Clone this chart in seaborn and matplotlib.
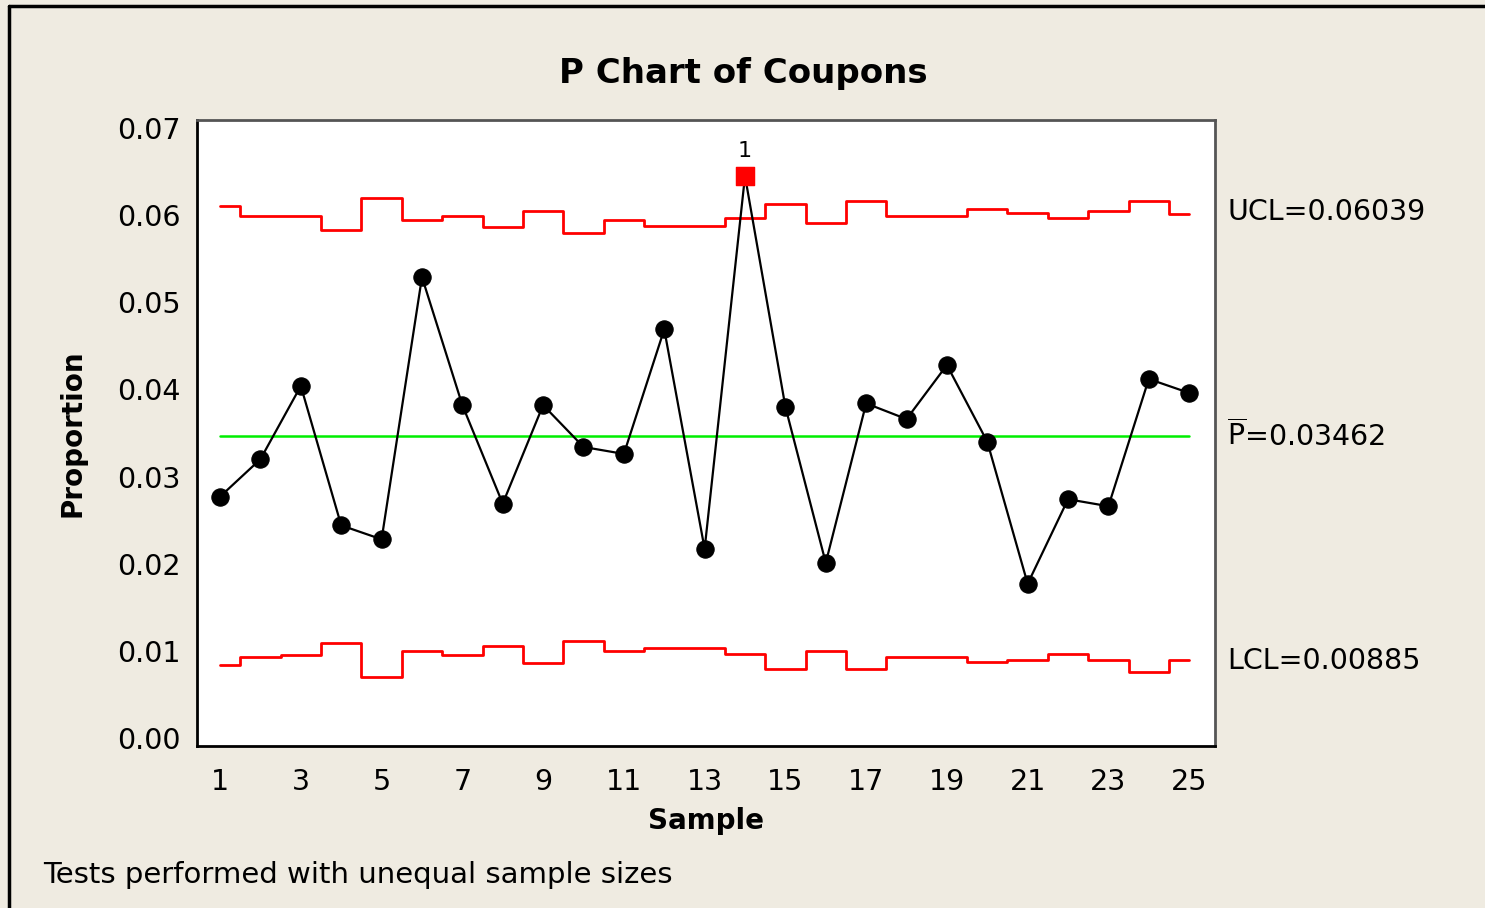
import numpy as np
import pandas as pd
import seaborn as sns
import matplotlib.pyplot as plt
from matplotlib.lines import Line2D

# P chart data
samples = list(range(1, 26))
proportion = [0.0277, 0.0320, 0.0404, 0.0244, 0.0228, 0.0529, 0.0382, 0.0269,
              0.0382, 0.0334, 0.0326, 0.0469, 0.0217, 0.0645, 0.0380, 0.0201,
              0.0384, 0.0366, 0.0428, 0.0340, 0.0177, 0.0274, 0.0266, 0.0412,
              0.0396]
ucl = [0.0610, 0.0599, 0.0599, 0.0583, 0.0620, 0.0594, 0.0599, 0.0586,
       0.0605, 0.0580, 0.0594, 0.0588, 0.0588, 0.0597, 0.0613, 0.0591,
       0.0616, 0.0599, 0.0599, 0.0607, 0.0602, 0.0597, 0.0605, 0.0616,
       0.0601]
lcl = [0.0084, 0.0093, 0.0095, 0.0109, 0.0070, 0.0100, 0.0095, 0.0106,
       0.0086, 0.0111, 0.0100, 0.0103, 0.0103, 0.0096, 0.0079, 0.0100,
       0.0079, 0.0093, 0.0093, 0.0087, 0.0090, 0.0096, 0.0090, 0.0076,
       0.0090]
p_bar = 0.03462
ucl_label = "UCL=0.06039"
lcl_label = "LCL=0.00885"
out_of_control = [14]
xtick_vals = list(range(1, 26, 2))
ytick_vals = [0.00, 0.01, 0.02, 0.03, 0.04, 0.05, 0.06, 0.07]

df = pd.DataFrame({"Sample": samples, "Proportion": proportion,
                   "UCL": ucl, "LCL": lcl})

sns.set_style("white")
plt.rcParams['font.family'] = ['DejaVu Sans']
plt.rcParams['mathtext.fontset'] = 'dejavusans'
plt.rcParams['text.color'] = 'black'
plt.rcParams['axes.labelcolor'] = 'black'

bg = '#EFEBE1'
fig = plt.figure(figsize=(14.85, 9.08), dpi=100, facecolor=bg)
ax = fig.add_axes([0.1327, 0.1784, 0.6855, 0.6894])
ax.set_facecolor('white')

sns.lineplot(data=df, x="Sample", y="UCL", ax=ax, color='#FF0000',
             linewidth=2, drawstyle='steps-mid')
sns.lineplot(data=df, x="Sample", y="LCL", ax=ax, color='#FF0000',
             linewidth=2, drawstyle='steps-mid')
ax.axhline(p_bar, xmin=(1 - 0.43) / (25.64 - 0.43),
           xmax=(25 - 0.43) / (25.64 - 0.43), color='#00EE00', linewidth=1.8)
sns.lineplot(data=df, x="Sample", y="Proportion", ax=ax, color='black',
             linewidth=1.6, marker='o', markersize=12.5, markeredgecolor='black')

bad = df[df["Sample"].isin(out_of_control)]
sns.scatterplot(data=bad, x="Sample", y="Proportion", ax=ax, marker='s',
                color='#FF0000', s=170, edgecolor='#FF0000', zorder=5)
for _, r in bad.iterrows():
    ax.annotate("1", (r["Sample"], r["Proportion"]), xytext=(0, 11),
                textcoords='offset points', ha='center', va='bottom',
                fontsize=16)

ax.set_xlim(0.43, 25.64)
ax.set_ylim(-0.00092, 0.07092)
ax.set_xticks(xtick_vals)
ax.set_yticks(ytick_vals)
ax.set_yticklabels([f"{v:.2f}" for v in ytick_vals])
ax.tick_params(direction='out', length=8, width=2, labelsize=20.5,
               colors='black', pad=4)
ax.tick_params(axis='x', pad=8)
for s in ax.spines.values():
    s.set_color('black')
    s.set_linewidth(2)
ax.spines['top'].set_color('#555555')
ax.spines['right'].set_color('#555555')

ax.set_xlabel("Sample", fontsize=20, fontweight='bold', labelpad=8)
ax.set_ylabel("Proportion", fontsize=20, fontweight='bold', labelpad=22)
fig.text(0.5003, 0.919, "P Chart of Coupons", ha='center', va='center',
         fontsize=24.5, fontweight='bold')

ax.text(1.012, 0.06039, ucl_label, transform=ax.get_yaxis_transform(),
        va='center', ha='left', fontsize=20.5)
ax.text(1.012, p_bar, r"$\overline{\mathrm{P}}$=0.03462",
        transform=ax.get_yaxis_transform(), va='center', ha='left', fontsize=20.5)
ax.text(1.012, 0.00885, lcl_label, transform=ax.get_yaxis_transform(),
        va='center', ha='left', fontsize=20.5)

fig.text(0.029, 0.036, "Tests performed with unequal sample sizes",
         ha='left', va='center', fontsize=21)

# outer frame lines (left and top)
fig.add_artist(Line2D([0.0061, 0.0061], [0, 0.9934], color='black',
                      linewidth=2.5, transform=fig.transFigure))
fig.add_artist(Line2D([0.0061, 1], [0.9934, 0.9934], color='black',
                      linewidth=2.5, transform=fig.transFigure))

fig.savefig("out.png", dpi=100, facecolor=bg)
